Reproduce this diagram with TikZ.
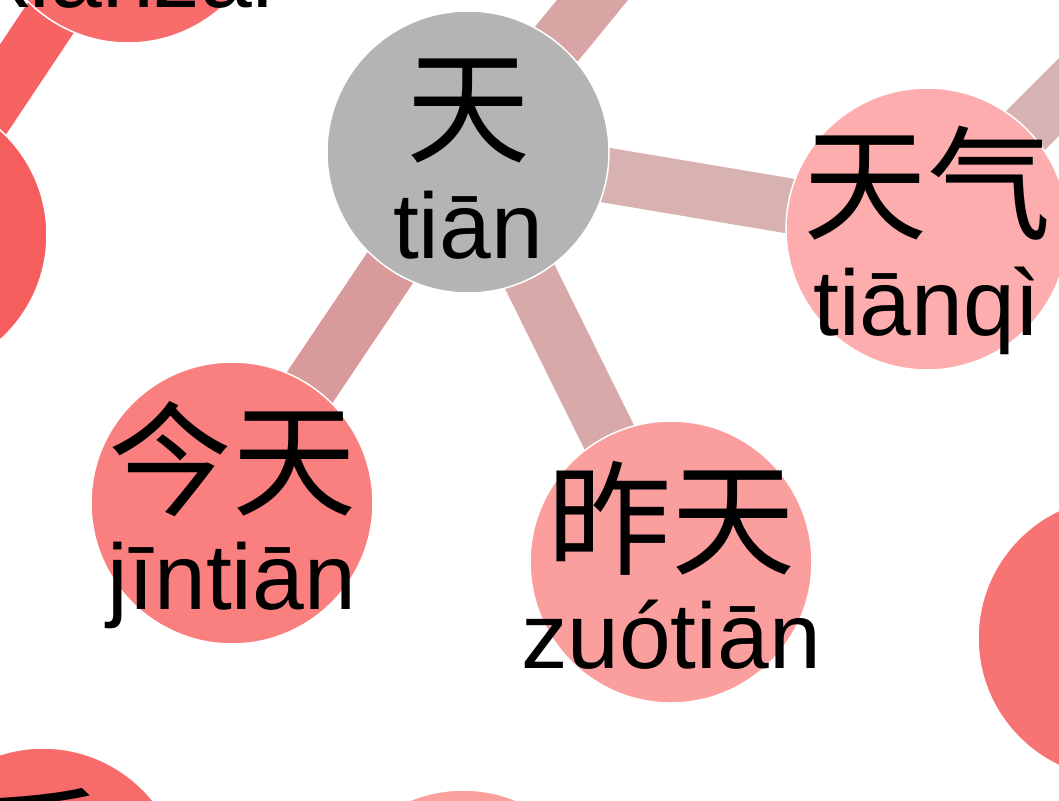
\documentclass[tikz,border=0pt]{standalone}
\usepackage{fontspec}
\setmainfont{Liberation Sans}
\newfontfamily\cjk{Noto Sans CJK SC}
\usetikzlibrary{backgrounds}
\definecolor{cgray}{HTML}{B4B4B4}
\definecolor{ctianqi}{HTML}{FDADAD}
\definecolor{cjintian}{HTML}{FA7F7F}
\definecolor{czuotian}{HTML}{FB9E9E}
\definecolor{cxianzai}{HTML}{F96C6C}
\definecolor{cleft}{HTML}{F65E5E}
\definecolor{cright}{HTML}{F87474}
\definecolor{cbotleft}{HTML}{F96B6B}
\definecolor{cbotmid}{HTML}{FC9F9F}
\definecolor{eA}{HTML}{D8B1B1}
\definecolor{eB}{HTML}{D89A9A}
\definecolor{eC}{HTML}{D8A9A9}
\definecolor{eD}{HTML}{D8A4A4}
\definecolor{eE}{HTML}{D8B3B3}
\definecolor{eF}{HTML}{F76262}
\begin{document}
\begin{tikzpicture}[x=1pt,y=-1pt,
  word/.style={circle,minimum size=282pt,inner sep=0pt,outer sep=0pt,draw=white,line width=1.5pt},
  zh/.style={anchor=base,font=\cjk\fontsize{124}{124}\selectfont,inner sep=0pt},
  py/.style={anchor=base,font=\fontsize{93}{93}\selectfont,inner sep=0pt},
  link/.style={line width=55pt}]
\useasboundingbox (0,0) rectangle (1059,800);
% word circles
\node[word,fill=cgray]    (tian)    at (468,152) {};
\node[word,fill=ctianqi]  (tianqi)  at (927,229) {};
\node[word,fill=cjintian] (jintian) at (232,503) {};
\node[word,fill=czuotian] (zuotian) at (671,562) {};
\node[word,fill=cxianzai] (xianzai) at (128,-98) {};
\node[word,fill=cleft]    (leftw)   at (-94,235) {};
\node[word,fill=cright]   (rightw)  at (1119,638) {};
\node[word,fill=cbotleft] (botleft) at (43,889) {};
\node[word,fill=cbotmid]  (botmid)  at (463,931) {};
\coordinate (outA) at (658,-80);
\coordinate (outB) at (1127,29);
% texts
\node[zh] (tianzh)    at (468,153) {天};
\node[py] (tianpy)    at (468,258) {tiān};
\node[zh] (tianqizh)  at (927,230) {天气};
\node[py] (tianqipy)  at (927,335) {tiānqì};
\node[zh] (jintianzh) at (232,506) {今天};
\node[py] (jintianpy) at (232,609) {jīntiān};
\node[zh] (zuotianzh) at (671,565) {昨天};
\node[py] (zuotianpy) at (671,668) {zuótiān};
\node[py] (xianzaipy) at (128,8) {xiànzài};
\node[zh] (botleftzh) at (43,891) {后};
% links
\begin{pgfonlayer}{background}
\fill[white] (0,0) rectangle (1059,800);
\draw[link,eA] (tian.center) -- (tianqi.center);
\draw[link,eB] (tian.center) -- (jintian.center);
\draw[link,eC] (tian.center) -- (zuotian.center);
\draw[link,eD] (tian.center) -- (outA);
\draw[link,eE] (tianqi.center) -- (outB);
\draw[link,eF] (xianzai.center) -- (leftw.center);
\end{pgfonlayer}
\end{tikzpicture}
\end{document}
